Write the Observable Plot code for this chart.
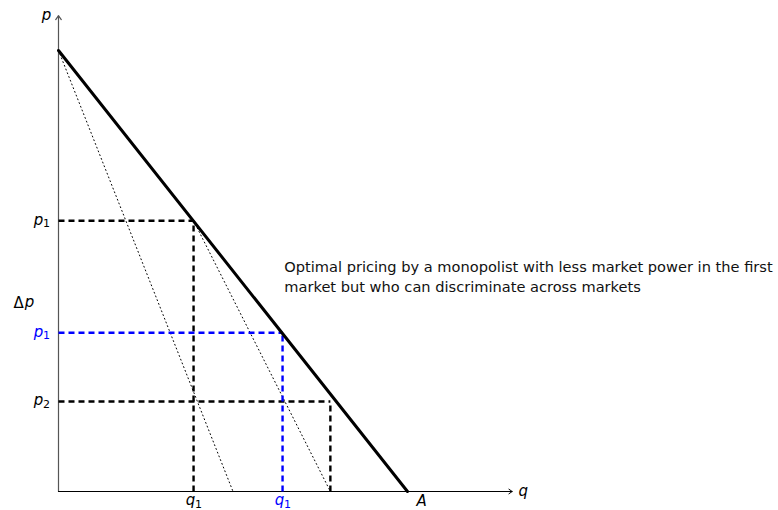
<!DOCTYPE html>
<html>
<head>
<meta charset="utf-8">
<script src="https://cdn.jsdelivr.net/npm/d3@7"></script>
<script src="https://cdn.jsdelivr.net/npm/@observablehq/plot@0.6"></script>
<style>
  body { margin: 0; background: #fff; }
  svg { display: block; }
</style>
</head>
<body>
<div id="chart"></div>
<script>
// Values (q on x, p on y), demand p = 10 - q
const demand = [{q: 0, p: 10}, {q: 10, p: 0}];
const mr1 = [{q: 0, p: 10}, {q: 5, p: 0}];
const mr2 = [{q: 3.87, p: 6.14}, {q: 7.79, p: 0}];
const blackPoint = {q: 3.87, p: 6.14};   // q1, p1
const bluePoint = {q: 6.42, p: 3.6};     // q1, p1 (blue)
const p2Point = {q: 7.79, p: 2.04};      // p2
const axisTop = 10.79;
const axisRight = 13.0;
const yLabels = [
  {p: 6.14, base: "p", sub: "1", color: "black"},
  {p: 3.6, base: "p", sub: "1", color: "blue"},
  {p: 2.04, base: "p", sub: "2", color: "black"}
];
const xLabels = [
  {q: 3.87, base: "q", sub: "1", color: "black"},
  {q: 6.42, base: "q", sub: "1", color: "blue"}
];
const note = "Optimal pricing by a monopolist with less market power in the first\nmarket but who can discriminate across markets";

function corner(pt) {
  return [
    {x1: 0, y1: pt.p, x2: pt.q, y2: pt.p},
    {x1: pt.q, y1: 0, x2: pt.q, y2: pt.p}
  ];
}

const font = "'DejaVu Sans', sans-serif";

const chart = Plot.plot({
  width: 778,
  height: 510,
  marginLeft: 58,
  marginRight: 371,
  marginTop: 50,
  marginBottom: 19,
  x: {domain: [0, 10], axis: null},
  y: {domain: [0, 10], axis: null},
  style: {fontFamily: font, background: "#fff", overflow: "visible"},
  marks: [
    // axes
    Plot.arrow([{x1: 0, y1: 0, x2: 0, y2: axisTop}], {x1: "x1", y1: "y1", x2: "x2", y2: "y2", stroke: "#555", strokeWidth: 1.2, headLength: 6, headAngle: 70}),
    Plot.arrow([{x1: 0, y1: 0, x2: axisRight, y2: 0}], {x1: "x1", y1: "y1", x2: "x2", y2: "y2", stroke: "black", strokeWidth: 1, headLength: 6, headAngle: 70}),
    // dotted MR lines
    Plot.line(mr1, {x: "q", y: "p", stroke: "black", strokeWidth: 1, strokeDasharray: "1,3"}),
    Plot.line(mr2, {x: "q", y: "p", stroke: "black", strokeWidth: 1, strokeDasharray: "1,3"}),
    // dashed guides
    Plot.link(corner(blackPoint), {x1: "x1", y1: "y1", x2: "x2", y2: "y2", stroke: "black", strokeWidth: 2.4, strokeDasharray: "6,4"}),
    Plot.link(corner(p2Point), {x1: "x1", y1: "y1", x2: "x2", y2: "y2", stroke: "black", strokeWidth: 2.4, strokeDasharray: "6,4"}),
    Plot.link(corner(bluePoint), {x1: "x1", y1: "y1", x2: "x2", y2: "y2", stroke: "blue", strokeWidth: 2.4, strokeDasharray: "6,4"}),
    // demand
    Plot.line(demand, {x: "q", y: "p", stroke: "black", strokeWidth: 3}),
    // labels
    Plot.text(yLabels, {x: 0, y: "p", text: "base", fill: "color", dx: -20, dy: -1, fontSize: 15, fontStyle: "italic"}),
    Plot.text(yLabels, {x: 0, y: "p", text: "sub", fill: "color", dx: -12, dy: 3, fontSize: 11}),
    Plot.text(xLabels, {x: "q", y: 0, text: "base", fill: "color", dx: -3, dy: 9, fontSize: 15, fontStyle: "italic"}),
    Plot.text(xLabels, {x: "q", y: 0, text: "sub", fill: "color", dx: 5, dy: 13, fontSize: 11}),
    Plot.text(["Δ"], {x: 0, y: 4.3, text: d => d, dx: -40, dy: 1, fontSize: 15}),
    Plot.text(["p"], {x: 0, y: 4.3, text: d => d, dx: -29, fontSize: 15, fontStyle: "italic"}),
    Plot.text(["p"], {x: 0, y: axisTop, text: d => d, dx: -12, dy: 0, fontSize: 15, fontStyle: "italic"}),
    Plot.text(["q"], {x: axisRight, y: 0, text: d => d, dx: 11, fontSize: 15, fontStyle: "italic"}),
    Plot.text(["A"], {x: 10, y: 0, text: d => d, dx: 14, dy: 10, fontSize: 15, fontStyle: "italic"}),
    Plot.text([note], {x: 6.47, y: 4.9, text: d => d, textAnchor: "start", fontSize: 14.6, lineHeight: 1.37, fill: "#111"})
  ]
});
document.getElementById("chart").appendChild(chart);
</script>
</body>
</html>
